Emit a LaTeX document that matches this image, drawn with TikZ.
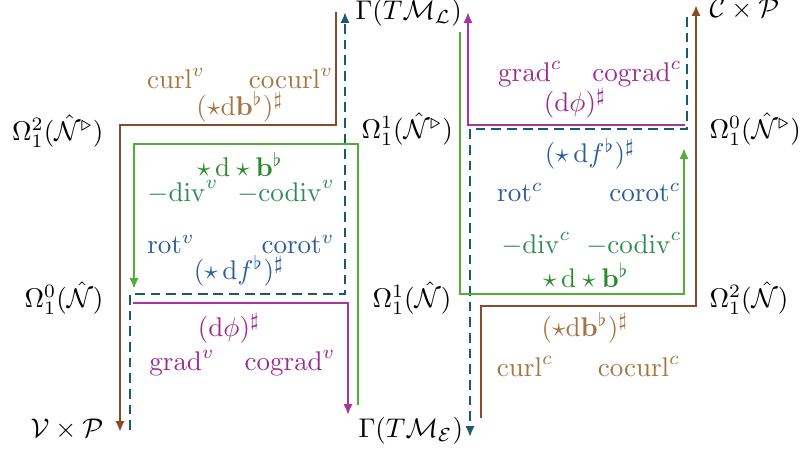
\documentclass[tikz,border=0pt]{standalone}
\usepackage{amsmath,amssymb}
\usetikzlibrary{arrows.meta}
\definecolor{brL}{HTML}{8B4A2A}
\definecolor{teL}{HTML}{1B5A6E}
\definecolor{grL}{HTML}{52AE3A}
\definecolor{maL}{HTML}{A8349C}
\definecolor{brT}{HTML}{A47443}
\definecolor{grT}{HTML}{2A8A2A}
\definecolor{gmT}{HTML}{2E8B57}
\definecolor{blT}{HTML}{2C5C9A}
\definecolor{maT}{HTML}{9A2C8E}
\tikzset{
  conn/.style={line width=0.9pt},
  tip/.style={-{Latex[length=4pt,width=3.4pt]}},
  dsh/.style={dash pattern=on 3.6pt off 2.2pt},
  lab/.style={inner sep=0pt},
}
\begin{document}
\begin{tikzpicture}[x=0.37pt,y=-0.37pt]
\useasboundingbox (0,0) rectangle (805,450);
% spaces
\node[lab,anchor=west] (GL) at (355,13) {$\Gamma(T\mathcal{M}_{\mathcal{L}})$};
\node[lab,anchor=west] (CP) at (709,9) {$\mathcal{C}\times\mathcal{P}$};
\node[lab,anchor=east] (O2t) at (104,131) {$\Omega^2_1(\hat{\mathcal{N}}^{\triangleright})$};
\node[lab,anchor=west] (O1t) at (361,129) {$\Omega^1_1(\hat{\mathcal{N}}^{\triangleright})$};
\node[lab,anchor=west] (O0t) at (709,129) {$\Omega^0_1(\hat{\mathcal{N}}^{\triangleright})$};
\node[lab,anchor=east] (O0b) at (104,298) {$\Omega^0_1(\hat{\mathcal{N}})$};
\node[lab,anchor=west] (O1b) at (372,298) {$\Omega^1_1(\hat{\mathcal{N}})$};
\node[lab,anchor=west] (O2b) at (709,298) {$\Omega^2_1(\hat{\mathcal{N}})$};
\node[lab,anchor=east] (VP) at (104,429) {$\mathcal{V}\times\mathcal{P}$};
\node[lab,anchor=west] (GE) at (358,431) {$\Gamma(T\mathcal{M}_{\mathcal{E}})$};
% left labels
\node[lab,text=brT] (curlv) at (176,78) {$\mathrm{curl}^v$};
\node[lab,text=brT] (cocurlv) at (291,78) {$\mathrm{cocurl}^v$};
\node[lab,text=brT] (sdbl) at (240,107) {$(\star\mathrm{d}\mathbf{b}^\flat)^\sharp$};
\node[lab,text=grT] (dsbl) at (240,164) {$\star\,\mathrm{d}\star\mathbf{b}^\flat$};
\node[lab,text=gmT] (divv) at (183,192) {$-\mathrm{div}^v$};
\node[lab,text=gmT] (codivv) at (286,192) {$-\mathrm{codiv}^v$};
\node[lab,text=blT] (rotv) at (171,244) {$\mathrm{rot}^v$};
\node[lab,text=blT] (corotv) at (298,244) {$\mathrm{corot}^v$};
\node[lab,text=blT] (sdfl) at (239,271) {$(\star\,\mathrm{d}f^\flat)^\sharp$};
\node[lab,text=maT] (dphil) at (229,328) {$(\mathrm{d}\phi)^\sharp$};
\node[lab,text=maT] (gradv) at (182,363) {$\mathrm{grad}^v$};
\node[lab,text=maT] (cogradv) at (290,363) {$\mathrm{cograd}^v$};
% right labels
\node[lab,text=maT] (gradc) at (530,74) {$\mathrm{grad}^c$};
\node[lab,text=maT] (cogradc) at (637,74) {$\mathrm{cograd}^c$};
\node[lab,text=maT] (dphir) at (575,103) {$(\mathrm{d}\phi)^\sharp$};
\node[lab,text=blT] (sdfr) at (590,154) {$(\star\,\mathrm{d}f^\flat)^\sharp$};
\node[lab,text=blT] (rotc) at (520,192) {$\mathrm{rot}^c$};
\node[lab,text=blT] (corotc) at (645,192) {$\mathrm{corot}^c$};
\node[lab,text=gmT] (divc) at (536,244) {$-\mathrm{div}^c$};
\node[lab,text=gmT] (codivc) at (634,244) {$-\mathrm{codiv}^c$};
\node[lab,text=grT] (dsbr) at (586,275) {$\star\,\mathrm{d}\star\mathbf{b}^\flat$};
\node[lab,text=brT] (sdbr) at (585,328) {$(\star\mathrm{d}\mathbf{b}^\flat)^\sharp$};
\node[lab,text=brT] (curlc) at (525,366) {$\mathrm{curl}^c$};
\node[lab,text=brT] (cocurlc) at (639,366) {$\mathrm{cocurl}^c$};
% corner coordinates, left
\coordinate (b1) at (336,12); \coordinate (b2) at (336,125);
\coordinate (b3) at (120,125); \coordinate (b4) at (120,432);
\coordinate (t1) at (130,430); \coordinate (t2) at (130,294);
\coordinate (t3) at (345,294); \coordinate (t4) at (345,12);
\coordinate (g1) at (358,405); \coordinate (g2) at (358,144);
\coordinate (g3) at (134,144); \coordinate (g4) at (134,289);
\coordinate (m1) at (133,303); \coordinate (m2) at (348,303);
\coordinate (m3) at (348,415);
% corner coordinates, right
\coordinate (M1) at (685,125); \coordinate (M2) at (468,125);
\coordinate (M3) at (468,12);
\coordinate (T1) at (687,17); \coordinate (T2) at (687,129);
\coordinate (T3) at (470,129); \coordinate (T4) at (470,437);
\coordinate (G1) at (460,32); \coordinate (G2) at (460,294);
\coordinate (G3) at (684,294); \coordinate (G4) at (684,148);
\coordinate (B1) at (481,418); \coordinate (B2) at (481,306);
\coordinate (B3) at (696,306); \coordinate (B4) at (696,5);
% connectors
\draw[conn,brL,tip] (b1) -- (b2) -- (b3) -- (b4);
\draw[conn,teL,dsh,tip] (t1) -- (t2) -- (t3) -- (t4);
\draw[conn,grL,tip] (g1) -- (g2) -- (g3) -- (g4);
\draw[conn,maL,tip] (m1) -- (m2) -- (m3);
\draw[conn,maL,tip] (M1) -- (M2) -- (M3);
\draw[conn,teL,dsh,tip] (T1) -- (T2) -- (T3) -- (T4);
\draw[conn,grL,tip] (G1) -- (G2) -- (G3) -- (G4);
\draw[conn,brL,tip] (B1) -- (B2) -- (B3) -- (B4);
\end{tikzpicture}
\end{document}
